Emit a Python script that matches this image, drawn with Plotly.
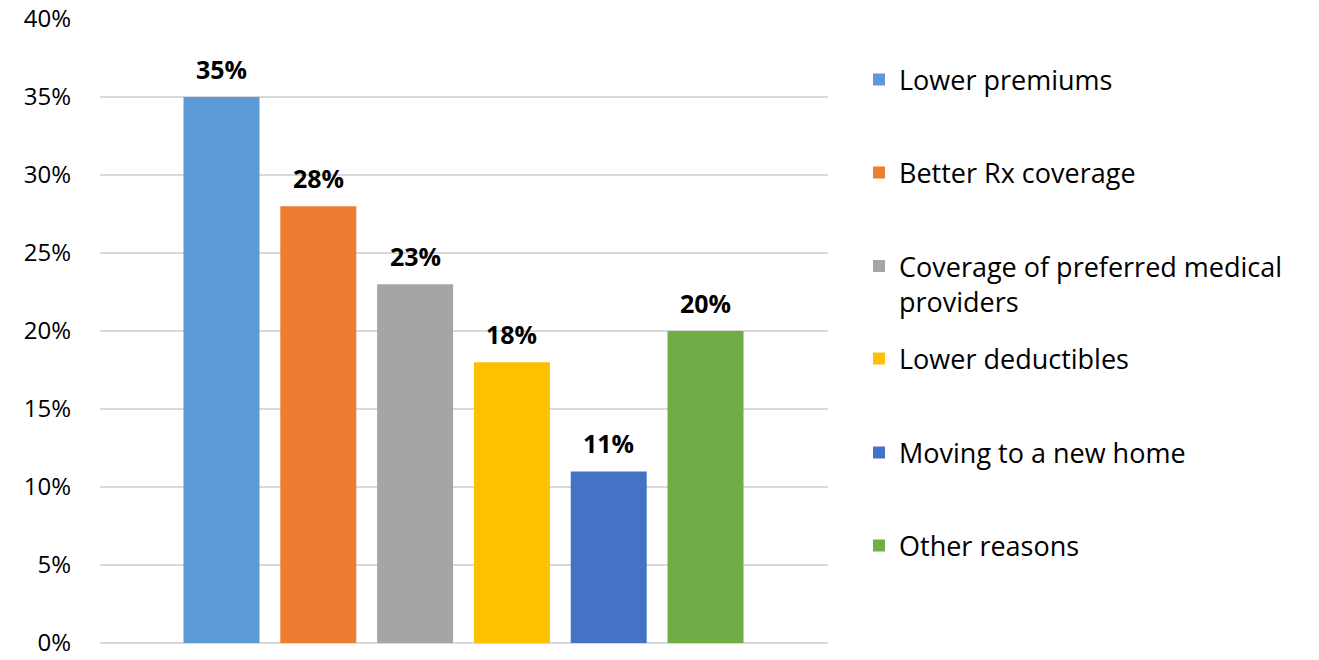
import plotly.graph_objects as go

# Survey: reasons for switching plans
reasons = [
    "Lower premiums",
    "Better Rx coverage",
    "Coverage of preferred medical<br>providers",
    "Lower deductibles",
    "Moving to a new home",
    "Other reasons",
]
shares = [0.35, 0.28, 0.23, 0.18, 0.11, 0.20]
colors = ["#5B9BD5", "#ED7D31", "#A5A5A5", "#FFC000", "#4472C4", "#70AD47"]
y_ticks = [0, 0.05, 0.10, 0.15, 0.20, 0.25, 0.30, 0.35, 0.40]

FONT = "Open Sans"
W, H = 1319, 660
# vertical centre of each legend entry (pixels from top)
legend_rows_px = [80, 173, 284, 359, 453, 546]

fig = go.Figure()
for i, (name, val, col) in enumerate(zip(reasons, shares, colors)):
    lg = "legend" if i == 0 else f"legend{i + 1}"
    fig.add_trace(go.Bar(
        x=[i], y=[val], name=name, marker_color=col, marker_line_width=0,
        width=0.785, legend=lg, hoverinfo="name+y",
    ))
    # value label above each bar
    fig.add_annotation(
        x=i, y=val, text=f"<b>{val:.0%}</b>", showarrow=False,
        xanchor="center", yanchor="bottom", yshift=9,
        font=dict(family=FONT, size=25, color="#000000"),
    )

layout_legends = {}
for i, ypx in enumerate(legend_rows_px):
    key = "legend" if i == 0 else f"legend{i + 1}"
    layout_legends[key] = dict(
        xref="container", yref="container",
        x=859 / W, y=1 - ypx / H, xanchor="left", yanchor="middle",
        font=dict(family=FONT, size=27, color="#000000"),
        bgcolor="rgba(0,0,0,0)", borderwidth=0, valign="top",
    )

fig.update_layout(
    width=W, height=H,
    margin=dict(l=100, r=W - 828, t=19, b=17, autoexpand=False),
    paper_bgcolor="white", plot_bgcolor="white",
    barmode="overlay",
    showlegend=True,
    font=dict(family=FONT, color="#000000"),
    xaxis=dict(range=[-1.255, 6.265], showticklabels=False, showgrid=False,
               zeroline=False, showline=False, ticks="", automargin=False),
    yaxis=dict(range=[0, 0.4], tickvals=y_ticks, tickformat=".0%",
               showgrid=True, gridcolor="#D9D9D9", gridwidth=1.5,
               zeroline=True, zerolinecolor="#D9D9D9", zerolinewidth=1.5,
               showline=False, ticks="", ticklabelstandoff=28, automargin=False,
               ticklabeloverflow="allow",
               tickfont=dict(family=FONT, size=24, color="#000000")),
    **layout_legends,
)

fig.write_html("out.html")
